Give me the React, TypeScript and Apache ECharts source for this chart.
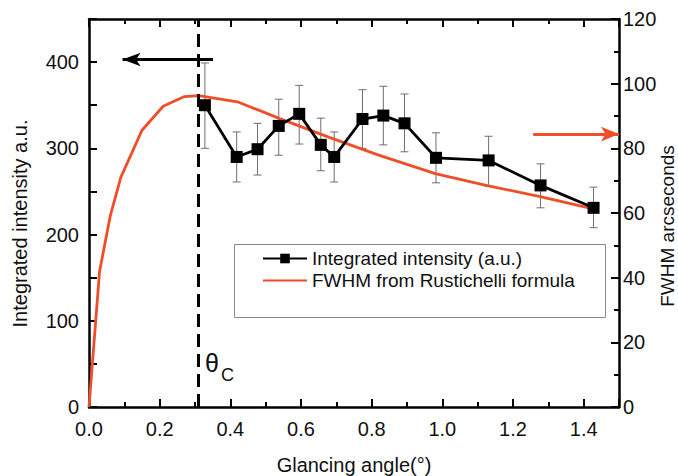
import React, { useEffect, useRef } from "react";
import * as echarts from "echarts";

// Integrated intensity measurements (left axis)
const angles = [0.328, 0.418, 0.477, 0.537, 0.595, 0.656, 0.694, 0.774, 0.833, 0.893, 0.982, 1.131, 1.278, 1.428];
const intensity = [350, 290, 299, 326, 340, 304, 290, 334, 338, 329, 289, 286, 257, 231];
const errLow = [300, 261, 269, 292, 305, 274, 261, 300, 304, 296, 260, 256, 231, 208];
const errHigh = [399, 319, 329, 357, 373, 335, 319, 368, 372, 363, 318, 314, 282, 255];

// FWHM from Rustichelli formula (right axis)
const fwhmAngles = [0, 0.03, 0.06, 0.09, 0.15, 0.21, 0.27, 0.31, 0.42, 0.54, 0.68, 0.82, 0.98, 1.13, 1.28, 1.43];
const fwhmValues = [0, 42, 59, 71, 85.6, 93, 96, 96.3, 94.4, 89.2, 83.4, 77.9, 72.2, 68.4, 65, 61.2];

const criticalAngle = 0.31;
const seriesNames = ["Integrated intensity (a.u.)", "FWHM from Rustichelli formula"];

const FONT = "'Liberation Sans', Arial, Helvetica, sans-serif";
const RED = "#F04E28";
const TXT = "#111";

export default function App() {
  const ref = useRef<HTMLDivElement>(null);

  useEffect(() => {
    if (!ref.current) return;
    const chart = echarts.init(ref.current, undefined, { renderer: "svg" });

    const axisLine = { show: true, onZero: false, lineStyle: { color: "#000", width: 2.5 } };
    const tick = { show: true, inside: true, length: 8, lineStyle: { color: "#000", width: 2 } };
    const minor = { show: true, splitNumber: 2, length: 5, lineStyle: { color: "#000", width: 2 } };

    const option: any = {
      animation: false,
      backgroundColor: "#fff",
      textStyle: { fontFamily: FONT },
      grid: { left: 89, right: 59, top: 19, bottom: 69, containLabel: false, outerBoundsMode: "none" },
      xAxis: [
        {
          type: "value",
          min: 0,
          max: 1.5,
          interval: 0.2,
          position: "bottom",
          name: "Glancing angle(°)",
          nameLocation: "middle",
          nameGap: 48,
          nameMoveOverlap: false,
          nameTextStyle: { fontSize: 20, color: TXT, fontFamily: FONT },
          axisLine,
          axisTick: tick,
          minorTick: minor,
          axisLabel: {
            fontSize: 20,
            color: TXT,
            margin: 12,
            fontFamily: FONT,
            showMaxLabel: false,
            formatter: (v: number) => v.toFixed(1),
          },
          splitLine: { show: false },
        },
        {
          type: "value",
          min: 0,
          max: 1.5,
          interval: 0.2,
          position: "top",
          axisLine,
          axisTick: tick,
          minorTick: minor,
          axisLabel: { show: false },
          splitLine: { show: false },
        },
      ],
      yAxis: [
        {
          type: "value",
          min: 0,
          max: 450,
          interval: 50,
          position: "left",
          name: "Integrated intensity a.u.",
          nameLocation: "middle",
          nameRotate: 90,
          nameGap: 59,
          nameMoveOverlap: false,
          nameTextStyle: { fontSize: 20, color: TXT, fontFamily: FONT, padding: [0, 21, 0, 0] },
          axisLine,
          axisTick: tick,
          axisLabel: {
            fontSize: 20,
            color: TXT,
            margin: 10,
            fontFamily: FONT,
            formatter: (v: number) => (v % 100 === 0 ? String(v) : ""),
          },
          splitLine: { show: false },
        },
        {
          type: "value",
          min: 0,
          max: 120,
          interval: 20,
          position: "right",
          name: "FWHM arcseconds",
          nameLocation: "middle",
          nameRotate: 90,
          nameGap: 39,
          nameMoveOverlap: false,
          nameTextStyle: { fontSize: 19, color: TXT, fontFamily: FONT, padding: [0, 26, 0, 0] },
          axisLine,
          axisTick: tick,
          minorTick: minor,
          axisLabel: { fontSize: 20, color: TXT, margin: 4, fontFamily: FONT },
          splitLine: { show: false },
        },
      ],
      legend: {
        data: [
          { name: seriesNames[0] },
          { name: seriesNames[1], itemStyle: { opacity: 0 } },
        ],
        orient: "vertical",
        left: 262,
        top: 249,
        padding: 0,
        itemWidth: 44,
        itemHeight: 12,
        itemGap: 3,
        textStyle: { fontSize: 19, color: TXT, fontFamily: FONT, lineHeight: 19 },
        z: 10,
      },
      graphic: [
        {
          type: "rect",
          left: 234,
          top: 244,
          z: 1,
          shape: { width: 371, height: 73 },
          style: { fill: "#fff", stroke: "#8a8a8a", lineWidth: 1 },
        },
        {
          type: "text",
          left: 205,
          top: 350,
          z: 10,
          style: { text: "θ", fontSize: 25, fill: TXT, fontFamily: FONT },
        },
        {
          type: "text",
          left: 221,
          top: 366,
          z: 10,
          style: { text: "C", fontSize: 18, fill: TXT, fontFamily: FONT },
        },
      ],
      series: [
        {
          type: "custom",
          name: "errors",
          xAxisIndex: 0,
          yAxisIndex: 0,
          z: 1,
          silent: true,
          data: angles.map((a, i) => [a, errLow[i], errHigh[i]]),
          encode: { x: 0, y: [1, 2] },
          renderItem: (params: any, api: any) => {
            const x = api.value(0);
            const pLo = api.coord([x, api.value(1)]);
            const pHi = api.coord([x, api.value(2)]);
            const w = 4;
            const style = { stroke: "#6e6e6e", lineWidth: 1 };
            return {
              type: "group",
              children: [
                { type: "line", shape: { x1: pLo[0], y1: pLo[1], x2: pHi[0], y2: pHi[1] }, style },
                { type: "line", shape: { x1: pLo[0] - w, y1: pLo[1], x2: pLo[0] + w, y2: pLo[1] }, style },
                { type: "line", shape: { x1: pHi[0] - w, y1: pHi[1], x2: pHi[0] + w, y2: pHi[1] }, style },
              ],
            };
          },
          markLine: {
            silent: true,
            symbol: ["none", "none"],
            label: { show: false },
            lineStyle: { type: [13, 7], width: 3, color: "#000" },
            data: [{ xAxis: criticalAngle }],
          },
        },
        {
          type: "line",
          name: seriesNames[1],
          xAxisIndex: 0,
          yAxisIndex: 1,
          z: 2,
          data: fwhmAngles.map((a, i) => [a, fwhmValues[i]]),
          symbol: "none",
          lineStyle: { color: RED, width: 2.8 },
          itemStyle: { color: RED },
          markLine: {
            silent: true,
            symbol: ["none", "arrow"],
            symbolSize: [11, 18],
            label: { show: false },
            lineStyle: { color: RED, width: 3, type: "solid" },
            data: [[{ coord: [1.257, 84.4] }, { coord: [1.5, 84.4] }]],
          },
        },
        {
          type: "line",
          name: seriesNames[0],
          xAxisIndex: 0,
          yAxisIndex: 0,
          z: 3,
          data: angles.map((a, i) => [a, intensity[i]]),
          symbol: "rect",
          symbolSize: 12,
          lineStyle: { color: "#000", width: 2.8 },
          itemStyle: { color: "#000" },
          markLine: {
            silent: true,
            symbol: ["none", "arrow"],
            symbolSize: [10, 18],
            label: { show: false },
            lineStyle: { color: "#000", width: 3, type: "solid" },
            data: [[{ coord: [0.351, 403] }, { coord: [0.095, 403] }]],
          },
        },
      ],
    };

    chart.setOption(option);
    return () => chart.dispose();
  }, []);

  return (
    <div
      ref={ref}
      style={{ position: "fixed", left: 0, top: 0, width: 678, height: 476, background: "#fff" }}
    />
  );
}
